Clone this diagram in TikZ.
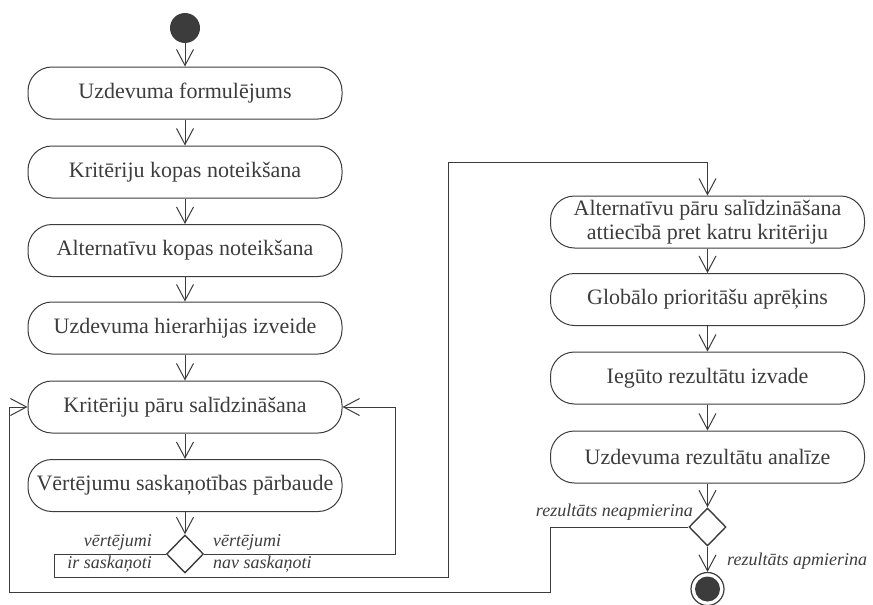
\documentclass[tikz,border=0pt]{standalone}
\usepackage{fontspec}
\setmainfont{Liberation Serif}
\usetikzlibrary{arrows.meta,shapes.geometric}
\definecolor{ink}{HTML}{3C3C3C}
\begin{document}
\begin{tikzpicture}[x=1pt,y=-1pt,
  act/.style={draw=ink, line width=1pt, rounded corners=24pt,
    minimum width=314pt, minimum height=52pt, inner sep=0pt,
    align=center, text=ink, font=\fontsize{22}{24.5}\selectfont},
  decision/.style={draw=ink, line width=1.4pt, diamond, inner sep=0pt,
    minimum width=37pt, minimum height=38pt},
  guard/.style={text=ink, inner sep=0pt, font=\fontsize{18}{20}\selectfont\itshape},
  flow/.style={draw=ink, line width=1pt,
    -{Straight Barb[length=16pt,width=17pt,line width=1pt]}},
]
\useasboundingbox (0,0) rectangle (873,605);

% initial node
\node[circle, fill=ink, minimum size=30pt, inner sep=0pt] (start) at (185,28) {};

% left column of activities
\node[act] (b1) at (185,93)    {Uzdevuma formulējums};
\node[act] (b2) at (185,172)   {Kritēriju kopas noteikšana};
\node[act] (b3) at (185,250.5) {Alternatīvu kopas noteikšana};
\node[act] (b4) at (185,328)   {Uzdevuma hierarhijas izveide};
\node[act] (b5) at (185,407)   {Kritēriju pāru salīdzināšana};
\node[act] (b6) at (185,485.5) {Vērtējumu saskaņotības pārbaude};
\node[decision] (d1) at (185,554) {};

% right column of activities
\node[act] (r1) at (707.5,222) {Alternatīvu pāru salīdzināšana\\attiecībā pret katru kritēriju};
\node[act] (r2) at (707.5,299.5) {Globālo prioritāšu aprēķins};
\node[act] (r3) at (707.5,378)   {Iegūto rezultātu izvade};
\node[act] (r4) at (707.5,457)   {Uzdevuma rezultātu analīze};
\node[decision] (d2) at (707.5,527) {};

% final node
\node[circle, draw=ink, line width=1.2pt, minimum size=33pt, inner sep=0pt] (end) at (707.5,589) {};
\fill[ink] (end.center) circle (12.5pt);

% main flow
\draw[flow] (start) -- (b1);
\draw[flow] (b1) -- (b2);
\draw[flow] (b2) -- (b3);
\draw[flow] (b3) -- (b4);
\draw[flow] (b4) -- (b5);
\draw[flow] (b5) -- (b6);
\draw[flow] (b6) -- (d1);
\draw[flow] (r1) -- (r2);
\draw[flow] (r2) -- (r3);
\draw[flow] (r3) -- (r4);
\draw[flow] (r4) -- (d2);
\draw[flow] (d2) -- (end);

% branches of the consistency check
\draw[flow] (d1.west) -| (54,577) -| (448,162) -| (r1.north);
\draw[flow] (d1.east) -| ([xshift=53pt]b5.east) -- (b5.east);

% loop back when the result is not satisfactory
\draw[flow] (d2.west) -| (550,592) -| ([xshift=-18pt]b5.west) -- (b5.west);

% guard labels
\node[guard, anchor=east] (g1) at (152,542) {vērtējumi};
\node[guard, anchor=east] (g2) at (152,564) {ir saskaņoti};
\node[guard, anchor=west] (g3) at (213,542) {vērtējumi};
\node[guard, anchor=west] (g4) at (213,564) {nav saskaņoti};
\node[guard, anchor=east] (g5) at (693,512) {rezultāts neapmierina};
\node[guard, anchor=west] (g6) at (727,561) {rezultāts apmierina};
\end{tikzpicture}
\end{document}
